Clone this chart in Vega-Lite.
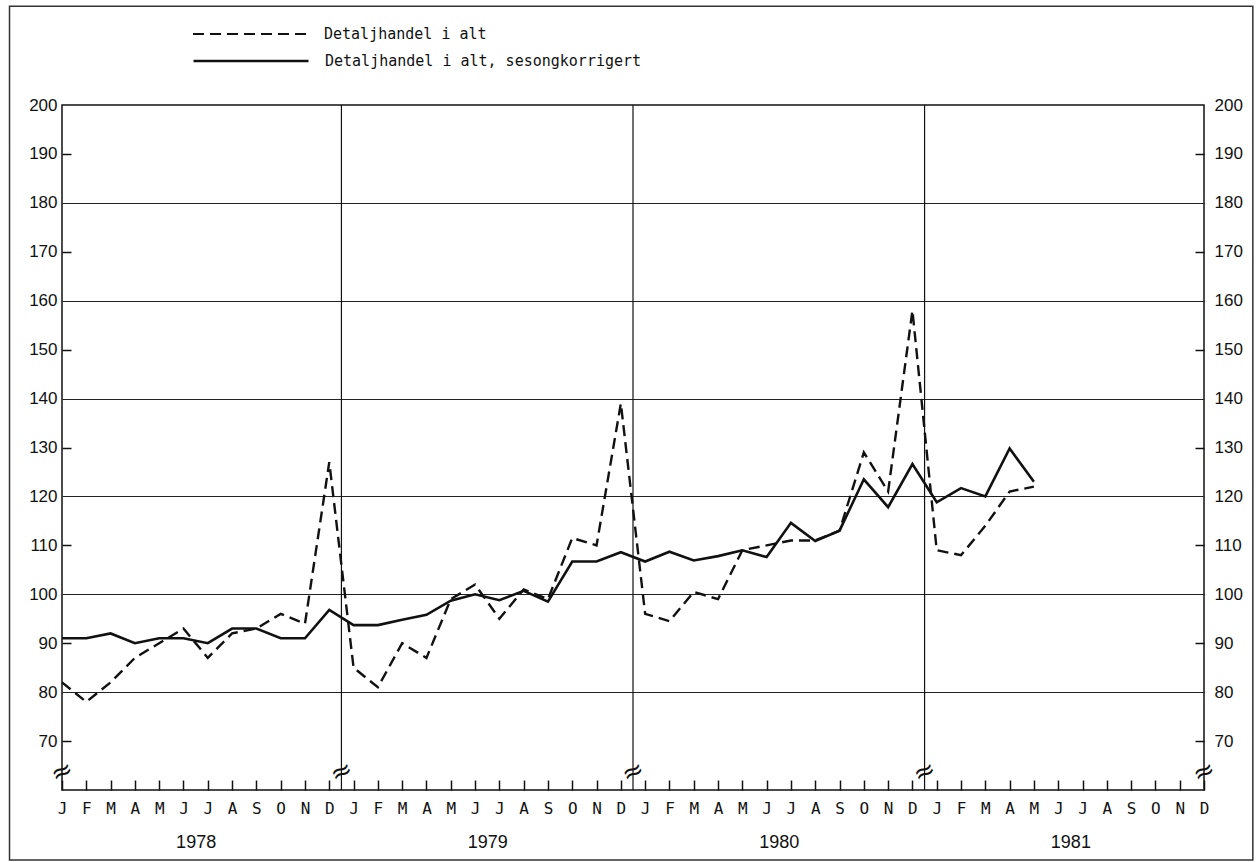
{
  "$schema": "https://vega.github.io/schema/vega-lite/v6.json",
  "width": 1142,
  "height": 685,
  "autosize": {"type": "none"},
  "padding": {"left": 62, "top": 105, "right": 52, "bottom": 72},
  "background": "white",
  "config": {
    "view": {"stroke": "#111", "strokeWidth": 1.5},
    "legend": {"symbolType": "stroke"}
  },
  "datasets": {
    "series": [
      {"s": "Detaljhandel i alt", "i": 0, "v": 82},
      {"s": "Detaljhandel i alt", "i": 1, "v": 78},
      {"s": "Detaljhandel i alt", "i": 2, "v": 82},
      {"s": "Detaljhandel i alt", "i": 3, "v": 87},
      {"s": "Detaljhandel i alt", "i": 4, "v": 90},
      {"s": "Detaljhandel i alt", "i": 5, "v": 93},
      {"s": "Detaljhandel i alt", "i": 6, "v": 87},
      {"s": "Detaljhandel i alt", "i": 7, "v": 92},
      {"s": "Detaljhandel i alt", "i": 8, "v": 93},
      {"s": "Detaljhandel i alt", "i": 9, "v": 96},
      {"s": "Detaljhandel i alt", "i": 10, "v": 94},
      {"s": "Detaljhandel i alt", "i": 11, "v": 127},
      {"s": "Detaljhandel i alt", "i": 12, "v": 85},
      {"s": "Detaljhandel i alt", "i": 13, "v": 81},
      {"s": "Detaljhandel i alt", "i": 14, "v": 90},
      {"s": "Detaljhandel i alt", "i": 15, "v": 87},
      {"s": "Detaljhandel i alt", "i": 16, "v": 99},
      {"s": "Detaljhandel i alt", "i": 17, "v": 102},
      {"s": "Detaljhandel i alt", "i": 18, "v": 95},
      {"s": "Detaljhandel i alt", "i": 19, "v": 101},
      {"s": "Detaljhandel i alt", "i": 20, "v": 99},
      {"s": "Detaljhandel i alt", "i": 21, "v": 111.5},
      {"s": "Detaljhandel i alt", "i": 22, "v": 110},
      {"s": "Detaljhandel i alt", "i": 23, "v": 139},
      {"s": "Detaljhandel i alt", "i": 24, "v": 96},
      {"s": "Detaljhandel i alt", "i": 25, "v": 94.5},
      {"s": "Detaljhandel i alt", "i": 26, "v": 100.5},
      {"s": "Detaljhandel i alt", "i": 27, "v": 99},
      {"s": "Detaljhandel i alt", "i": 28, "v": 109},
      {"s": "Detaljhandel i alt", "i": 29, "v": 110},
      {"s": "Detaljhandel i alt", "i": 30, "v": 111},
      {"s": "Detaljhandel i alt", "i": 31, "v": 111},
      {"s": "Detaljhandel i alt", "i": 32, "v": 113},
      {"s": "Detaljhandel i alt", "i": 33, "v": 129},
      {"s": "Detaljhandel i alt", "i": 34, "v": 121},
      {"s": "Detaljhandel i alt", "i": 35, "v": 158},
      {"s": "Detaljhandel i alt", "i": 36, "v": 109},
      {"s": "Detaljhandel i alt", "i": 37, "v": 108},
      {"s": "Detaljhandel i alt", "i": 38, "v": 114},
      {"s": "Detaljhandel i alt", "i": 39, "v": 121},
      {"s": "Detaljhandel i alt", "i": 40, "v": 122},
      {"s": "Detaljhandel i alt, sesongkorrigert", "i": 0, "v": 91},
      {"s": "Detaljhandel i alt, sesongkorrigert", "i": 1, "v": 91},
      {"s": "Detaljhandel i alt, sesongkorrigert", "i": 2, "v": 92},
      {"s": "Detaljhandel i alt, sesongkorrigert", "i": 3, "v": 90},
      {"s": "Detaljhandel i alt, sesongkorrigert", "i": 4, "v": 91},
      {"s": "Detaljhandel i alt, sesongkorrigert", "i": 5, "v": 91},
      {"s": "Detaljhandel i alt, sesongkorrigert", "i": 6, "v": 90},
      {"s": "Detaljhandel i alt, sesongkorrigert", "i": 7, "v": 93},
      {"s": "Detaljhandel i alt, sesongkorrigert", "i": 8, "v": 93},
      {"s": "Detaljhandel i alt, sesongkorrigert", "i": 9, "v": 91},
      {"s": "Detaljhandel i alt, sesongkorrigert", "i": 10, "v": 91},
      {"s": "Detaljhandel i alt, sesongkorrigert", "i": 11, "v": 96.8},
      {"s": "Detaljhandel i alt, sesongkorrigert", "i": 12, "v": 93.7},
      {"s": "Detaljhandel i alt, sesongkorrigert", "i": 13, "v": 93.7},
      {"s": "Detaljhandel i alt, sesongkorrigert", "i": 14, "v": 94.8},
      {"s": "Detaljhandel i alt, sesongkorrigert", "i": 15, "v": 95.8},
      {"s": "Detaljhandel i alt, sesongkorrigert", "i": 16, "v": 98.7},
      {"s": "Detaljhandel i alt, sesongkorrigert", "i": 17, "v": 100},
      {"s": "Detaljhandel i alt, sesongkorrigert", "i": 18, "v": 98.8},
      {"s": "Detaljhandel i alt, sesongkorrigert", "i": 19, "v": 100.7},
      {"s": "Detaljhandel i alt, sesongkorrigert", "i": 20, "v": 98.5},
      {"s": "Detaljhandel i alt, sesongkorrigert", "i": 21, "v": 106.7},
      {"s": "Detaljhandel i alt, sesongkorrigert", "i": 22, "v": 106.7},
      {"s": "Detaljhandel i alt, sesongkorrigert", "i": 23, "v": 108.6},
      {"s": "Detaljhandel i alt, sesongkorrigert", "i": 24, "v": 106.7},
      {"s": "Detaljhandel i alt, sesongkorrigert", "i": 25, "v": 108.7},
      {"s": "Detaljhandel i alt, sesongkorrigert", "i": 26, "v": 106.9},
      {"s": "Detaljhandel i alt, sesongkorrigert", "i": 27, "v": 107.8},
      {"s": "Detaljhandel i alt, sesongkorrigert", "i": 28, "v": 109},
      {"s": "Detaljhandel i alt, sesongkorrigert", "i": 29, "v": 107.6},
      {"s": "Detaljhandel i alt, sesongkorrigert", "i": 30, "v": 114.6},
      {"s": "Detaljhandel i alt, sesongkorrigert", "i": 31, "v": 110.9},
      {"s": "Detaljhandel i alt, sesongkorrigert", "i": 32, "v": 113},
      {"s": "Detaljhandel i alt, sesongkorrigert", "i": 33, "v": 123.5},
      {"s": "Detaljhandel i alt, sesongkorrigert", "i": 34, "v": 117.8},
      {"s": "Detaljhandel i alt, sesongkorrigert", "i": 35, "v": 126.6},
      {"s": "Detaljhandel i alt, sesongkorrigert", "i": 36, "v": 118.8},
      {"s": "Detaljhandel i alt, sesongkorrigert", "i": 37, "v": 121.7},
      {"s": "Detaljhandel i alt, sesongkorrigert", "i": 38, "v": 120},
      {"s": "Detaljhandel i alt, sesongkorrigert", "i": 39, "v": 129.8},
      {"s": "Detaljhandel i alt, sesongkorrigert", "i": 40, "v": 123}
    ],
    "dividers": [{"b": 11.5}, {"b": 23.5}, {"b": 35.5}],
    "breaks": [{"bx": 0}, {"bx": 11.5}, {"bx": 23.5}, {"bx": 35.5}, {"bx": 47}]
  },
  "layer": [
    {
      "data": {"name": "dividers"},
      "mark": {"type": "rule", "color": "#111", "strokeWidth": 1.2},
      "encoding": {
        "x": {"field": "b", "type": "quantitative", "scale": {"domain": [0, 47], "nice": false, "zero": false}, "axis": null}
      }
    },
    {
      "data": {"name": "series"},
      "transform": [{"filter": "datum.s === 'Detaljhandel i alt'"}],
      "mark": {"type": "line", "color": "#111", "strokeWidth": 2.4, "strokeDash": [11, 7]},
      "encoding": {
        "x": {
          "field": "i", "type": "quantitative",
          "scale": {"domain": [0, 47], "nice": false, "zero": false},
          "axis": {
            "orient": "bottom", "offset": -10,
            "values": [0,1,2,3,4,5,6,7,8,9,10,11,12,13,14,15,16,17,18,19,20,21,22,23,24,25,26,27,28,29,30,31,32,33,34,35,36,37,38,39,40,41,42,43,44,45,46,47],
            "labelExpr": "['J','F','M','A','M','J','J','A','S','O','N','D'][datum.value % 12]",
            "tickSize": 10, "tickWidth": 1.5, "tickColor": "#111",
            "labelPadding": 10, "labelFont": "DejaVu Sans Mono", "labelFontSize": 16, "labelColor": "#111",
            "domain": false, "grid": false, "title": null,
            "labelOverlap": false, "labelFlush": false, "labelBound": false
          }
        },
        "y": {
          "field": "v", "type": "quantitative",
          "scale": {"domain": [60, 200], "nice": false, "zero": false},
          "axis": {
            "orient": "left", "offset": -9,
            "values": [70,80,90,100,110,120,130,140,150,160,170,180,190,200],
            "grid": true, "gridColor": "#222", "gridWidth": 1,
            "gridOpacity": {"condition": {"test": "datum.value % 20 === 0 && datum.value < 200", "value": 1}, "value": 0},
            "tickSize": 9, "tickWidth": 1.5, "tickColor": "#111",
            "tickOpacity": {"condition": {"test": "datum.value % 20 === 0", "value": 0}, "value": 1},
            "labelFont": "Liberation Sans", "labelFontSize": 17, "labelColor": "#111", "labelPadding": 5,
            "domain": false, "title": null, "labelOverlap": false, "labelFlush": false, "labelBound": false
          }
        },
        "strokeDash": {
          "field": "s", "type": "nominal",
          "scale": {"range": [[11, 6]]},
          "legend": {
            "orient": "none", "legendX": 130, "legendY": -81, "title": null, "padding": 0,
            "clipHeight": 20, "symbolSize": 13225, "symbolStrokeWidth": 2, "symbolStrokeColor": "#111",
            "labelFont": "DejaVu Sans Mono", "labelFontSize": 15, "labelColor": "#111", "labelOffset": 15, "labelLimit": 600
          }
        }
      }
    },
    {
      "data": {"name": "series"},
      "transform": [{"filter": "datum.s !== 'Detaljhandel i alt'"}],
      "mark": {"type": "line", "strokeWidth": 2.6},
      "encoding": {
        "x": {
          "field": "i", "type": "quantitative",
          "scale": {"domain": [0, 47], "nice": false, "zero": false},
          "axis": {
            "orient": "bottom",
            "values": [5.5, 17.5, 29.5, 41.5],
            "labelExpr": "'' + (1978 + floor(datum.value / 12))",
            "ticks": false, "domain": false, "grid": false, "title": null,
            "labelPadding": 43, "labelFont": "Liberation Sans", "labelFontSize": 18, "labelColor": "#111",
            "labelOverlap": false, "labelFlush": false, "labelBound": false
          }
        },
        "y": {
          "field": "v", "type": "quantitative",
          "scale": {"domain": [60, 200], "nice": false, "zero": false},
          "axis": {
            "orient": "right", "offset": -9,
            "values": [70,80,90,100,110,120,130,140,150,160,170,180,190,200],
            "grid": false,
            "tickSize": 9, "tickWidth": 1.5, "tickColor": "#111",
            "tickOpacity": {"condition": {"test": "datum.value % 20 === 0", "value": 0}, "value": 1},
            "labelFont": "Liberation Sans", "labelFontSize": 17, "labelColor": "#111", "labelPadding": 10,
            "domain": false, "title": null, "labelOverlap": false, "labelFlush": false, "labelBound": false
          }
        },
        "color": {
          "field": "s", "type": "nominal",
          "scale": {"range": ["#111"]},
          "legend": {
            "orient": "none", "legendX": 130, "legendY": -54, "title": null, "padding": 0,
            "clipHeight": 20, "symbolSize": 13225, "symbolStrokeWidth": 2.4,
            "labelFont": "DejaVu Sans Mono", "labelFontSize": 15, "labelColor": "#111", "labelOffset": 15, "labelLimit": 600
          }
        }
      }
    },
    {
      "data": {"name": "breaks"},
      "mark": {"type": "text", "text": "≈", "fontSize": 26, "angle": -25, "color": "#111", "font": "DejaVu Sans"},
      "encoding": {
        "x": {"field": "bx", "type": "quantitative", "scale": {"domain": [0, 47], "nice": false, "zero": false}, "axis": null},
        "y": {"datum": 63.7, "type": "quantitative", "axis": null}
      }
    },
    {
      "data": {"values": [{}]},
      "mark": {"type": "rect", "filled": false, "stroke": "#333", "strokeWidth": 1.5},
      "encoding": {
        "x": {"datum": -2.16, "type": "quantitative", "axis": null},
        "x2": {"datum": 49.01},
        "y": {"datum": 220.2, "type": "quantitative", "axis": null},
        "y2": {"datum": 45.7}
      }
    }
  ],
  "resolve": {"axis": {"x": "independent", "y": "independent"}}
}
